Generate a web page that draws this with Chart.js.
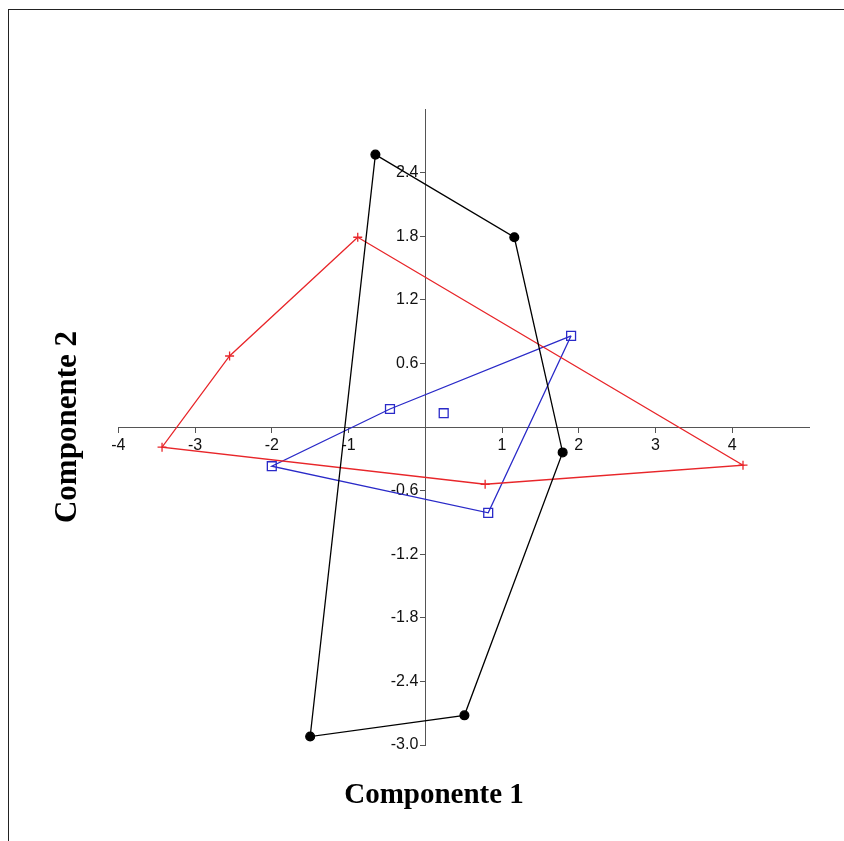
<!DOCTYPE html>
<html>
<head>
<meta charset="utf-8">
<script src="https://cdn.jsdelivr.net/npm/chart.js@4/dist/chart.umd.min.js"></script>
<style>
  html, body { margin: 0; padding: 0; background: #fff; }
  #wrap { position: relative; width: 844px; height: 841px; }
  #frame { position: absolute; left: 8px; top: 9px; right: 0; bottom: 0;
           border-top: 1.5px solid #222; border-left: 1.5px solid #222; pointer-events: none; }
  canvas { position: absolute; left: 0; top: 0; }
</style>
</head>
<body>
<div id="wrap">
  <canvas id="c" width="844" height="841"></canvas>
  <div id="frame"></div>
</div>
<script>
// ---- data ----
const xTitle = 'Componente 1';
const yTitle = 'Componente 2';
const xTicks = [-4, -3, -2, -1, 1, 2, 3, 4];
const yTicks = [-3.0, -2.4, -1.8, -1.2, -0.6, 0.6, 1.2, 1.8, 2.4];

// group 1 (black dots)
const blackX = [-0.65, 1.16, 1.79, 0.51, -1.50];
const blackY = [2.57, 1.79, -0.24, -2.72, -2.92];
const blackHull = [0, 1, 2, 3, 4];

// group 2 (red crosses)
const redX = [-0.88, 4.14, 0.78, -3.43, -2.55];
const redY = [1.79, -0.36, -0.54, -0.19, 0.67];
const redHull = [0, 1, 2, 3, 4];

// group 3 (blue squares)
const blueX = [1.90, 0.82, -2.00, -0.46, 0.24];
const blueY = [0.86, -0.81, -0.37, 0.17, 0.13];
const blueHull = [0, 1, 2, 3];

function pts(xs, ys) { return xs.map((x, i) => ({ x: x, y: ys[i] })); }
function hull(xs, ys, idx) {
  const p = idx.map(i => ({ x: xs[i], y: ys[i] }));
  p.push({ x: xs[idx[0]], y: ys[idx[0]] });
  return p;
}

const BLACK = '#000000', RED = '#e8262a', BLUE = '#2a2ac8';

function lineDs(data, color) {
  return { data: data, showLine: true, borderColor: color, borderWidth: 1.3,
           pointRadius: 0, fill: false, tension: 0, order: 2 };
}
function markDs(data, color, style, r, filled) {
  return { data: data, showLine: false, pointStyle: style, pointRadius: r,
           pointBorderColor: color, pointBackgroundColor: filled ? color : 'rgba(0,0,0,0)',
           pointBorderWidth: 1.3, order: 1 };
}

// y labels of a centred axis sit on the axis line; move them left past the tick marks
const shiftYLabels = {
  id: 'shiftYLabels',
  beforeDraw(chart) {
    const s = chart.scales.y;
    const items = s.getLabelItems();
    if (!items._shifted) {
      const off = s.options.grid.tickLength + s.options.ticks.padding;
      items.forEach(it => { it.options.translation[0] -= off; });
      items._shifted = true;
    }
  }
};

new Chart(document.getElementById('c'), {
  type: 'scatter',
  data: {
    datasets: [
      lineDs(hull(blackX, blackY, blackHull), BLACK),
      lineDs(hull(redX, redY, redHull), RED),
      lineDs(hull(blueX, blueY, blueHull), BLUE),
      markDs(pts(blackX, blackY), BLACK, 'circle', 4.4, true),
      markDs(pts(redX, redY), RED, 'cross', 4.5, false),
      markDs(pts(blueX, blueY), BLUE, 'rect', 6.3, false)
    ]
  },
  plugins: [shiftYLabels],
  options: {
    responsive: false,
    animation: false,
    layout: { padding: { left: 24, right: 0, top: 109, bottom: 27.6 } },
    plugins: {
      legend: { display: false },
      tooltip: { enabled: false },
      title: {
        display: true, text: xTitle, position: 'bottom', color: '#000',
        font: { family: 'Liberation Serif', weight: 'bold', size: 29, lineHeight: 1.2 },
        padding: { top: 33.6, bottom: 0 }
      },
      subtitle: {
        display: true, text: yTitle, position: 'left', color: '#000', fullSize: false,
        font: { family: 'Liberation Serif', weight: 'bold', size: 31, lineHeight: 1.2 },
        padding: { top: 25.4, bottom: 31.7 }
      }
    },
    scales: {
      x: {
        type: 'linear', min: -4, max: 5,
        position: { y: 0 },
        afterBuildTicks: s => { s.ticks = xTicks.map(v => ({ value: v })); },
        grid: { drawOnChartArea: false, drawTicks: true, tickLength: 5, color: '#555', tickWidth: 1 },
        border: { display: true, color: '#555', width: 1 },
        ticks: { color: '#111', padding: 4, maxRotation: 0,
                 font: { family: 'Liberation Sans', size: 16 },
                 callback: v => String(v) }
      },
      y: {
        type: 'linear', min: -3, max: 3,
        position: { x: 0 },
        afterBuildTicks: s => { s.ticks = yTicks.map(v => ({ value: v })); },
        grid: { drawOnChartArea: false, drawTicks: true, tickLength: 5, color: '#555', tickWidth: 1 },
        border: { display: true, color: '#555', width: 1 },
        ticks: { color: '#111', padding: 2,
                 font: { family: 'Liberation Sans', size: 16 },
                 callback: v => Number(v).toFixed(1) }
      },
      // empty right margin keeper (no marks, no text)
      yMargin: {
        type: 'linear', position: 'right', display: true,
        grid: { display: false }, border: { display: false }, ticks: { display: false },
        afterFit: s => { s.width = 35; }
      }
    }
  }
});
</script>
</body>
</html>
